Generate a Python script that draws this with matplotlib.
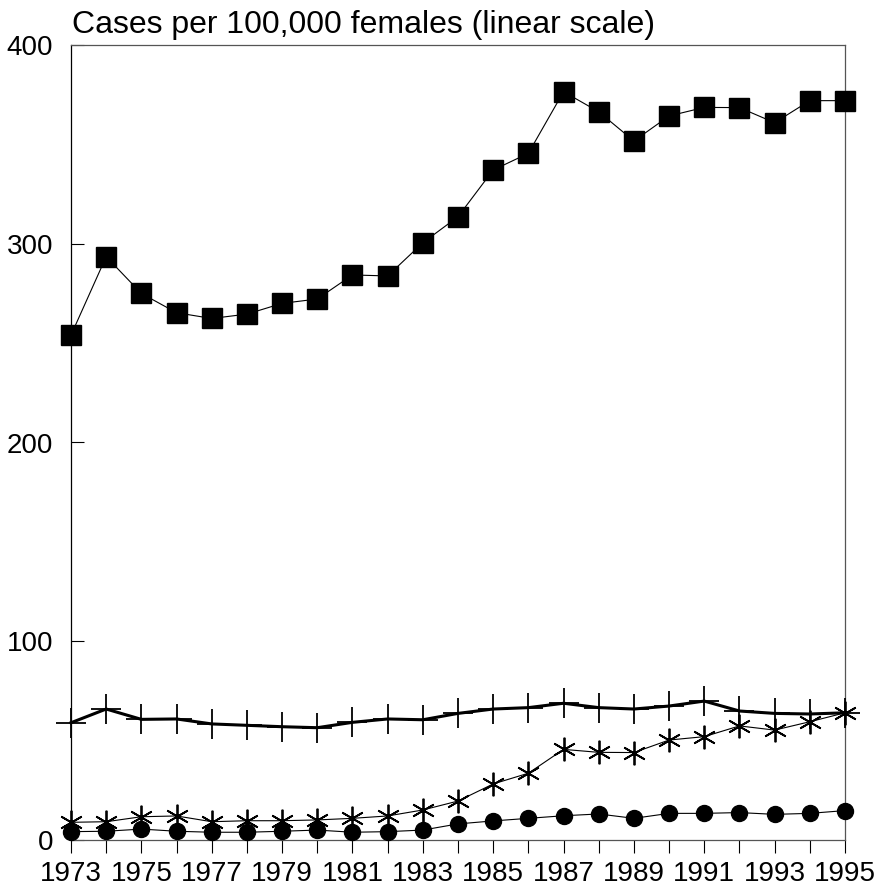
import numpy as np
import matplotlib
matplotlib.use("Agg")
import matplotlib.pyplot as plt

plt.rcParams['font.family'] = ['Liberation Sans', 'DejaVu Sans']

# --- dados ---
anos = list(range(1973, 1996))

quadrados = [254, 293.5, 275, 265.3, 262.4, 264.6, 270, 272.2, 284.3, 283.8, 300.5,
             313.6, 337.1, 345.5, 376.5, 366.4, 351.7, 364.3, 368.6, 368.5, 360.9,
             372, 372]
cruzes = [59.0, 65.9, 60.7, 60.9, 58.4, 57.7, 57.0, 56.5, 59.2, 60.9, 60.5,
          63.7, 65.9, 66.6, 68.8, 66.6, 65.9, 67.4, 69.9, 64.9, 63.7, 63.4, 64.0]
asteriscos = [8.9, 9.2, 11.7, 12.1, 9.2, 9.7, 9.7, 10.1, 10.9, 12.1, 15.1,
              19.6, 28.2, 33.6, 45.6, 44.1, 44.0, 50.3, 52.0, 57.4, 55.3, 59.5, 64.0]
circulos = [4.2, 4.4, 5.5, 4.4, 3.9, 3.9, 4.4, 5.0, 3.9, 4.2, 5.0,
            8.1, 9.6, 10.9, 12.2, 13.1, 10.9, 13.4, 13.4, 13.8, 12.9, 13.4, 14.8]

rotulos_x = [str(a) if a % 2 == 1 else '' for a in anos]
ticks_y = [0, 100, 200, 300, 400]
titulo = "Cases per 100,000 females (linear scale)"

fig = plt.figure(figsize=(8.77, 8.88), dpi=100)
ax = fig.add_axes([71 / 877, 48 / 888, (845 - 71) / 877, (840 - 45) / 888])

ax.plot(anos, cruzes, color='black', lw=2.2, marker='+', markersize=21,
        markeredgewidth=1.3, clip_on=False, zorder=3)
ax.plot(anos, asteriscos, color='black', lw=0.8, marker=(6, 2, 0), markersize=17,
        markeredgewidth=1.3, clip_on=False, zorder=4)
ax.plot(anos, circulos, color='black', lw=0.8, marker='o', markersize=11.5,
        clip_on=False, zorder=4)
ax.plot(anos, quadrados, color='black', lw=0.8, marker='s', markersize=14.5,
        clip_on=False, zorder=4)

ax.set_xlim(1973, 1995)
ax.set_ylim(0, 400)

ax.set_xticks(anos)
ax.set_xticklabels(rotulos_x)
ax.set_yticks(ticks_y)
ax.set_yticklabels([str(v) for v in ticks_y])

ax.tick_params(axis='x', direction='out', length=9, width=0.8, labelsize=20, pad=6)
ax.tick_params(axis='y', direction='in', length=9, width=0.8, labelsize=20, pad=13)

for lado in ['top', 'right', 'bottom']:
    ax.spines[lado].set_color('#555555')
    ax.spines[lado].set_linewidth(0.9)
ax.spines['left'].set_color('black')
ax.spines['left'].set_linewidth(0.9)

fig.text(72 / 877, 1 - 33 / 888, titulo, fontsize=23, ha='left', va='baseline')

fig.savefig('out.png', dpi=100)
